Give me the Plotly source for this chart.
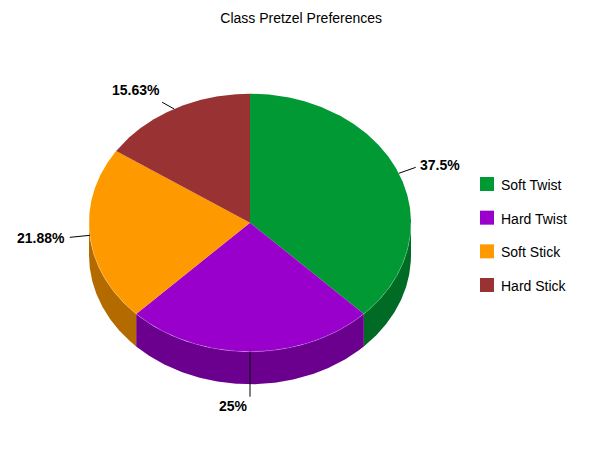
import numpy as np
import plotly.graph_objects as go

TITLE = "Class Pretzel Preferences"
categories = ["Soft Twist", "Hard Twist", "Soft Stick", "Hard Stick"]
values = [12, 8, 7, 5]
labels = ["37.5%", "25%", "21.88%", "15.63%"]
top_colors = ["#009933", "#9900CC", "#FF9900", "#993333"]
side_colors = ["#006B24", "#6B008F", "#B36B00", "#6B2424"]

W, H = 600, 463
CX, CY, RX, RY, DEPTH = 250, 222.7, 161, 129, 32.5
LEGEND_X, LEGEND_Y, LEGEND_STEP = 487, 184, 33.67
total = sum(values)
edges = np.concatenate([[0], np.cumsum(values)]) / total * 2 * np.pi


def rim(a, r=1.0, dy=0.0):
    return CX + r * RX * np.sin(a), CY - r * RY * np.cos(a) + dy


fig = go.Figure()

# side walls (only the front half of the disc is visible)
for i, cat in enumerate(categories):
    a0, a1 = max(edges[i], np.pi / 2), min(edges[i + 1], 3 * np.pi / 2)
    if a1 <= a0:
        continue
    a = np.linspace(a0, a1, 120)
    x1, y1 = rim(a)
    x2, y2 = rim(a[::-1], dy=DEPTH)
    fig.add_trace(go.Scatter(x=np.r_[x1, x2], y=np.r_[y1, y2], mode="lines", fill="toself",
                             fillcolor=side_colors[i], line=dict(width=0), hoverinfo="skip",
                             showlegend=False))

# top faces
for i, cat in enumerate(categories):
    a = np.linspace(edges[i], edges[i + 1], 240)
    x, y = rim(a)
    fig.add_trace(go.Scatter(x=np.r_[CX, x, CX], y=np.r_[CY, y, CY], mode="lines", fill="toself",
                             fillcolor=top_colors[i], line=dict(width=0), name=cat,
                             hoverinfo="skip", showlegend=False))

# faint highlight where the top face meets the side wall
a = np.linspace(np.pi / 2, 3 * np.pi / 2, 360)
x, y = rim(a)
fig.add_trace(go.Scatter(x=x, y=y, mode="lines", line=dict(color="rgba(255,255,255,0.2)", width=1),
                         hoverinfo="skip", showlegend=False))

# leader lines and labels: leader end offset from the rim, then label offset from leader end
leader_dxdy = [(17, -6), (0, 45), (-20, 2), (-12, -6.7)]
label_anchor = [("left", "middle", 3, -2.5), ("right", "top", -1, 0), ("right", "middle", -4, 1), ("right", "bottom", -1, -3)]
for i, lab in enumerate(labels):
    m = (edges[i] + edges[i + 1]) / 2
    x0, y0 = rim(m)
    dx, dy = leader_dxdy[i]
    x1, y1 = x0 + dx, y0 + dy
    fig.add_trace(go.Scatter(x=[x0, x1], y=[y0, y1], mode="lines",
                             line=dict(color="#000000", width=1), hoverinfo="skip", showlegend=False))
    xa, ya, xs, ys = label_anchor[i]
    fig.add_annotation(x=x1, y=y1, text=f"<b>{lab}</b>", showarrow=False, xanchor=xa, yanchor=ya,
                       xshift=xs, yshift=-ys, borderpad=0,
                       font=dict(family="Liberation Sans", size=14, color="#000000"))

# legend entries
for i, cat in enumerate(categories):
    ly = LEGEND_Y + i * LEGEND_STEP
    fig.add_trace(go.Scatter(x=[LEGEND_X], y=[ly], mode="markers", name=cat,
                             marker=dict(symbol="square", size=14, color=top_colors[i], line=dict(width=0)),
                             hoverinfo="skip", showlegend=False))
    fig.add_annotation(x=LEGEND_X, y=ly, text=cat, showarrow=False, xanchor="left", yanchor="middle",
                       xshift=13, yshift=-1, borderpad=0,
                       font=dict(family="Liberation Sans", size=14, color="#000000"))

fig.update_layout(
    width=W, height=H, autosize=False,
    margin=dict(l=0, r=0, t=0, b=0),
    paper_bgcolor="#FFFFFF", plot_bgcolor="#FFFFFF",
    font=dict(family="Liberation Sans", size=14, color="#000000"),
    title=dict(text=TITLE, x=0.502, xanchor="center", y=0.96, yanchor="middle",
               font=dict(family="Liberation Sans", size=14, color="#000000")),
    xaxis=dict(range=[0, W], visible=False, fixedrange=True),
    yaxis=dict(range=[H, 0], visible=False, fixedrange=True),
    showlegend=False,
)
fig.write_html("out.html", post_script="document.body.style.margin='0';", config=dict(displayModeBar=False))
